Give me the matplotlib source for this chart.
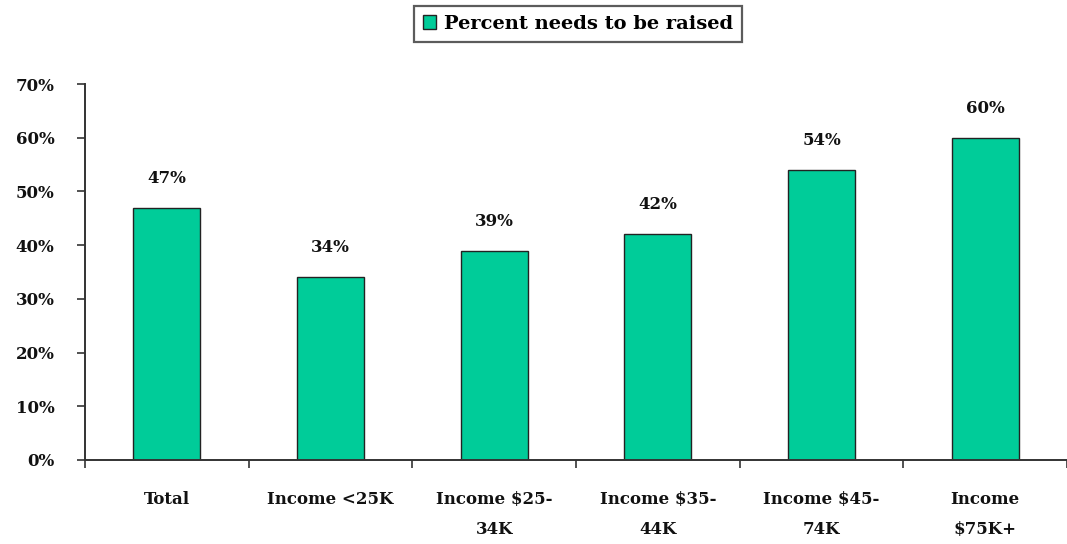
import matplotlib
matplotlib.use("Agg")
import matplotlib.pyplot as plt
import numpy as np

categories = ["Total", "Income <25K", "Income $25-\n34K", "Income $35-\n44K",
              "Income $45-\n74K", "Income\n$75K+"]
values = [47, 34, 39, 42, 54, 60]
series_name = "Percent needs to be raised"
yticks = [0, 10, 20, 30, 40, 50, 60, 70]

FONT = ['DejaVu Serif']
plt.rcParams['font.family'] = FONT
plt.rcParams['font.weight'] = 'bold'

fig = plt.figure(figsize=(10.67, 5.44), dpi=100)
ax = fig.add_axes([85/1067, 1-460/544, (1067-85)/1067, (460-84)/544])

x = np.arange(len(categories))
bars = ax.bar(x, values, width=0.41, color='#00CC99', edgecolor='#222222',
              linewidth=1.0, label=series_name, zorder=2)
for xi, v in zip(x, values):
    ax.text(xi, v + 3.9, f"{v}%", ha='center', va='bottom', fontsize=12,
            fontweight='bold', color='#111111')

ax.set_xlim(-0.5, len(categories) - 0.5)
ax.set_ylim(0, 70)
ax.set_yticks(yticks)
ax.set_yticklabels([f"{t}%" for t in yticks], fontsize=12, fontweight='bold')
ax.tick_params(axis='y', direction='out', length=6, width=1.2, pad=16, colors='#333333', labelcolor='#111111')

ax.set_xticks(x)
ax.set_xticklabels(categories, fontsize=12, fontweight='bold', linespacing=2.0)
ax.tick_params(axis='x', which='major', length=0, pad=22, labelcolor='#111111')
ax.set_xticks(np.arange(-0.5, len(categories) - 0.4, 1.0), minor=True)
ax.tick_params(axis='x', which='minor', direction='out', length=6, width=1.2, colors='#333333')

for s in ['top', 'right']:
    ax.spines[s].set_visible(False)
for s in ['left', 'bottom']:
    ax.spines[s].set_color('#333333')
    ax.spines[s].set_linewidth(1.4)
ax.spines['bottom'].set_zorder(3)

leg = fig.legend(handles=[bars], labels=[series_name], loc='center',
                 bbox_to_anchor=(578/1067, 1-24/544), frameon=True, fancybox=False,
                 prop={'family': FONT, 'weight': 'bold', 'size': 14},
                 handlelength=0.7, handleheight=0.7, handletextpad=0.4,
                 borderpad=0.45, edgecolor='#333333')
leg.get_frame().set_linewidth(1.6)

fig.savefig("out.png", dpi=100)
